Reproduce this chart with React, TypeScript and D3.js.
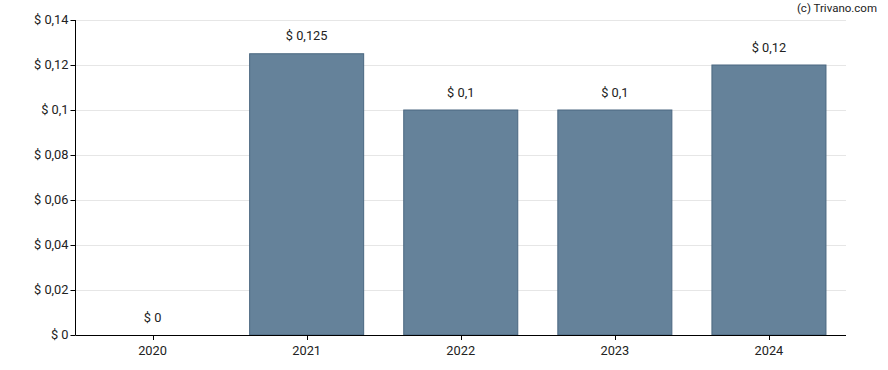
import React from "react";
import * as d3 from "d3";

const categories = ["2020", "2021", "2022", "2023", "2024"];
const values = [0, 0.125, 0.1, 0.1, 0.12];
const valueLabels = ["$ 0", "$ 0,125", "$ 0,1", "$ 0,1", "$ 0,12"];
const yTicks = [0, 0.02, 0.04, 0.06, 0.08, 0.1, 0.12, 0.14];
const yTickLabels = ["$ 0", "$ 0,02", "$ 0,04", "$ 0,06", "$ 0,08", "$ 0,1", "$ 0,12", "$ 0,14"];

const W = 888, H = 370;
const left = 75.5, right = 846, top = 20, bottom = 335;

export default function App() {
  const x = d3.scaleBand<string>().domain(categories).range([left, right]).paddingInner(0.26).paddingOuter(0.13);
  const y = d3.scaleLinear().domain([0, 0.14]).range([bottom, top]);
  const font = "Roboto, sans-serif";
  return (
    <svg width={W} height={H} style={{ position: "absolute", left: 0, top: 0 }}>
      <rect width={W} height={H} fill="#fff" />
      {yTicks.map((t, i) => (
        <g key={i}>
          {t > 0 && <line x1={left} x2={right} y1={Math.round(y(t)) + 0.5} y2={Math.round(y(t)) + 0.5} stroke="#e6e6e6" />}
          <line x1={left - 5} x2={left} y1={Math.round(y(t)) + 0.5} y2={Math.round(y(t)) + 0.5} stroke="#000" />
          <text x={left - 7} y={y(t)} dy="0.35em" textAnchor="end" fontFamily={font} fontSize={12.8} fill="#222">{yTickLabels[i]}</text>
        </g>
      ))}
      {categories.map((c, i) => {
        const h = bottom - y(values[i]);
        const cx = (x(c) as number) + x.bandwidth() / 2;
        return (
          <g key={c}>
            {values[i] > 0 && (
              <rect x={x(c)} y={y(values[i])} width={x.bandwidth()} height={h} fill="#65829a" stroke="#4a6780" strokeWidth={1} />
            )}
            <text x={cx} y={y(values[i]) - 13.5} textAnchor="middle" fontFamily={font} fontSize={12.8} fill="#222">{valueLabels[i]}</text>
            <line x1={Math.round(cx) + 0.5} x2={Math.round(cx) + 0.5} y1={bottom} y2={bottom + 5} stroke="#000" />
            <text x={cx} y={bottom + 20} textAnchor="middle" fontFamily={font} fontSize={12.8} fill="#222">{c}</text>
          </g>
        );
      })}
      <line x1={left} x2={left} y1={top} y2={bottom} stroke="#000" />
      <line x1={left} x2={right} y1={bottom + 0.5} y2={bottom + 0.5} stroke="#000" />
      <text x={877} y={12} textAnchor="end" fontFamily={font} fontSize={11.5} fill="#222">(c) Trivano.com</text>
    </svg>
  );
}
